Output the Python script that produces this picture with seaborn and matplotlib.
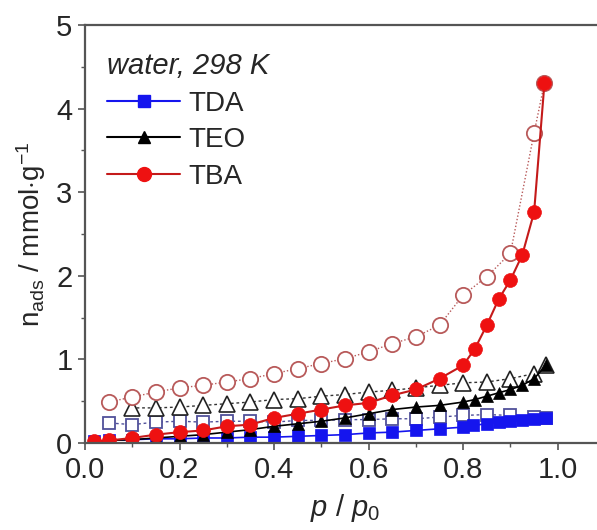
import numpy as np
import pandas as pd
import seaborn as sns
import matplotlib
matplotlib.use("Agg")
import matplotlib.pyplot as plt
from matplotlib.lines import Line2D

# ---------------- data ----------------
tda_ads_x = [0.02, 0.05, 0.10, 0.15, 0.20, 0.25, 0.30, 0.35, 0.40, 0.45, 0.50, 0.55, 0.60,
             0.65, 0.70, 0.75, 0.80, 0.82, 0.85, 0.875, 0.90, 0.925, 0.95, 0.975]
tda_ads_y = [0.02, 0.03, 0.04, 0.05, 0.05, 0.06, 0.06, 0.07, 0.07, 0.08, 0.09, 0.10, 0.12,
             0.13, 0.15, 0.17, 0.19, 0.21, 0.23, 0.25, 0.26, 0.28, 0.29, 0.30]
tda_des_x = [0.975, 0.95, 0.90, 0.85, 0.80, 0.75, 0.70, 0.65, 0.60, 0.55, 0.50, 0.45, 0.40,
             0.35, 0.30, 0.25, 0.20, 0.15, 0.10, 0.05]
tda_des_y = [0.30, 0.31, 0.33, 0.34, 0.33, 0.31, 0.29, 0.29, 0.28, 0.28, 0.27, 0.27, 0.25,
             0.26, 0.26, 0.25, 0.26, 0.25, 0.22, 0.24]

teo_ads_x = [0.02, 0.05, 0.10, 0.15, 0.20, 0.25, 0.30, 0.35, 0.40, 0.45, 0.50, 0.55, 0.60,
             0.65, 0.70, 0.75, 0.80, 0.825, 0.85, 0.875, 0.90, 0.925, 0.95, 0.975]
teo_ads_y = [0.02, 0.03, 0.04, 0.06, 0.08, 0.10, 0.13, 0.16, 0.20, 0.23, 0.26, 0.30, 0.35,
             0.40, 0.43, 0.45, 0.49, 0.52, 0.56, 0.60, 0.64, 0.69, 0.77, 0.93]
teo_des_x = [0.975, 0.95, 0.90, 0.85, 0.80, 0.75, 0.70, 0.65, 0.60, 0.55, 0.50, 0.45, 0.40,
             0.35, 0.30, 0.25, 0.20, 0.15, 0.10]
teo_des_y = [0.93, 0.83, 0.77, 0.73, 0.72, 0.69, 0.66, 0.63, 0.61, 0.58, 0.56, 0.53, 0.52,
             0.49, 0.47, 0.45, 0.43, 0.42, 0.42]

tba_ads_x = [0.02, 0.05, 0.10, 0.15, 0.20, 0.25, 0.30, 0.35, 0.40, 0.45, 0.50, 0.55, 0.60,
             0.65, 0.70, 0.75, 0.80, 0.825, 0.85, 0.875, 0.90, 0.925, 0.95, 0.972]
tba_ads_y = [0.02, 0.03, 0.06, 0.10, 0.13, 0.15, 0.20, 0.22, 0.30, 0.35, 0.40, 0.45, 0.48,
             0.57, 0.64, 0.77, 0.93, 1.13, 1.41, 1.72, 1.95, 2.25, 2.76, 4.31]
tba_des_x = [0.972, 0.95, 0.90, 0.85, 0.80, 0.75, 0.70, 0.65, 0.60, 0.55, 0.50, 0.45, 0.40,
             0.35, 0.30, 0.25, 0.20, 0.15, 0.10, 0.05]
tba_des_y = [4.31, 3.71, 2.27, 1.99, 1.77, 1.41, 1.27, 1.19, 1.09, 1.01, 0.95, 0.89, 0.83,
             0.77, 0.73, 0.69, 0.66, 0.61, 0.55, 0.49]

series_names = ["TDA", "TEO", "TBA"]
title_text = "water, 298 K"

# ---------------- style ----------------
sns.set_style("ticks")
plt.rcParams["font.family"] = ["Liberation Sans", "DejaVu Sans"]
plt.rcParams["mathtext.fontset"] = "custom"
plt.rcParams["mathtext.rm"] = "Liberation Sans"
plt.rcParams["mathtext.it"] = "Liberation Sans:italic"

fig = plt.figure(figsize=(5.97, 5.30), dpi=100)
# axes extends past the right edge of the figure (cropped, as in the reference)
ax = fig.add_axes([85 / 597, 87 / 530, 520 / 597, 418 / 530])

blue = "#1515ee"
blue_open = "#50509a"
red = "#ee1111"
red_line = "#c41a1a"
red_open = "#b85a5a"


def draw(x, y, **kw):
    df = pd.DataFrame({"x": x, "y": y})
    sns.lineplot(data=df, x="x", y="y", sort=False, ax=ax, **kw)


# desorption (open symbols) first
draw(tda_des_x, tda_des_y, color=blue_open, linestyle=(0, (2, 2)), linewidth=1.0,
     marker="s", markersize=9, markerfacecolor="white", markeredgecolor=blue_open,
     markeredgewidth=1.3)
draw(teo_des_x, teo_des_y, color="#333333", linestyle=(0, (2, 2)), linewidth=1.0,
     marker="^", markersize=11, markerfacecolor="white", markeredgecolor="#222222",
     markeredgewidth=1.2)
draw(tba_des_x, tba_des_y, color=red_open, linestyle=(0, (1, 1.5)), linewidth=1.0,
     marker="o", markersize=11, markerfacecolor="white", markeredgecolor=red_open,
     markeredgewidth=1.3)

# adsorption (filled symbols)
draw(tda_ads_x, tda_ads_y, color=blue, linewidth=1.2, marker="s", markersize=8,
     markerfacecolor=blue, markeredgecolor=blue, markeredgewidth=0.5)
draw(teo_ads_x, teo_ads_y, color="black", linewidth=1.2, marker="^", markersize=9,
     markerfacecolor="black", markeredgecolor="black", markeredgewidth=0.5)
draw(tba_ads_x, tba_ads_y, color=red_line, linewidth=1.5, marker="o", markersize=10,
     markerfacecolor=red, markeredgecolor=red, markeredgewidth=0.5)

# ---------------- axes ----------------
ax.set_xlim(0, 1.1)
ax.set_ylim(0, 5)
ax.set_xticks([0.0, 0.2, 0.4, 0.6, 0.8, 1.0])
ax.set_xticklabels(["0.0", "0.2", "0.4", "0.6", "0.8", "1.0"])
ax.set_xticks(np.arange(0.1, 1.1, 0.2), minor=True)
ax.set_yticks([0, 1, 2, 3, 4, 5])
ax.set_yticks([0.5, 1.5, 2.5, 3.5, 4.5], minor=True)
ax.tick_params(axis="both", which="major", direction="out", length=5, width=1.2,
               color="#555555", labelsize=21, pad=4)
ax.tick_params(axis="both", which="minor", direction="out", length=3, width=1.0,
               color="#555555")
for s in ax.spines.values():
    s.set_color("#555555")
    s.set_linewidth(1.6)

ax.set_xlabel(r"$p$ / $p_0$", fontsize=21, labelpad=6)
ax.set_ylabel(r"n$_{\mathrm{ads}}$ / mmol$\cdot$g$^{-1}$", fontsize=20, labelpad=6)

# ---------------- legend ----------------
handles = [
    Line2D([], [], color=blue, marker="s", markersize=9, linewidth=1.5),
    Line2D([], [], color="black", marker="^", markersize=9, linewidth=1.5),
    Line2D([], [], color=red_line, marker="o", markersize=10, markerfacecolor=red,
           markeredgecolor=red, linewidth=1.5),
]
leg = ax.legend(handles, series_names, loc="upper left", bbox_to_anchor=(-0.005, 0.995),
                frameon=False, fontsize=20, title=title_text,
                title_fontproperties={"style": "italic", "size": 21},
                handlelength=2.6, handletextpad=0.3, labelspacing=0.38,
                borderaxespad=0.5)
leg._legend_box.align = "left"

fig.savefig("out.png", dpi=100)
